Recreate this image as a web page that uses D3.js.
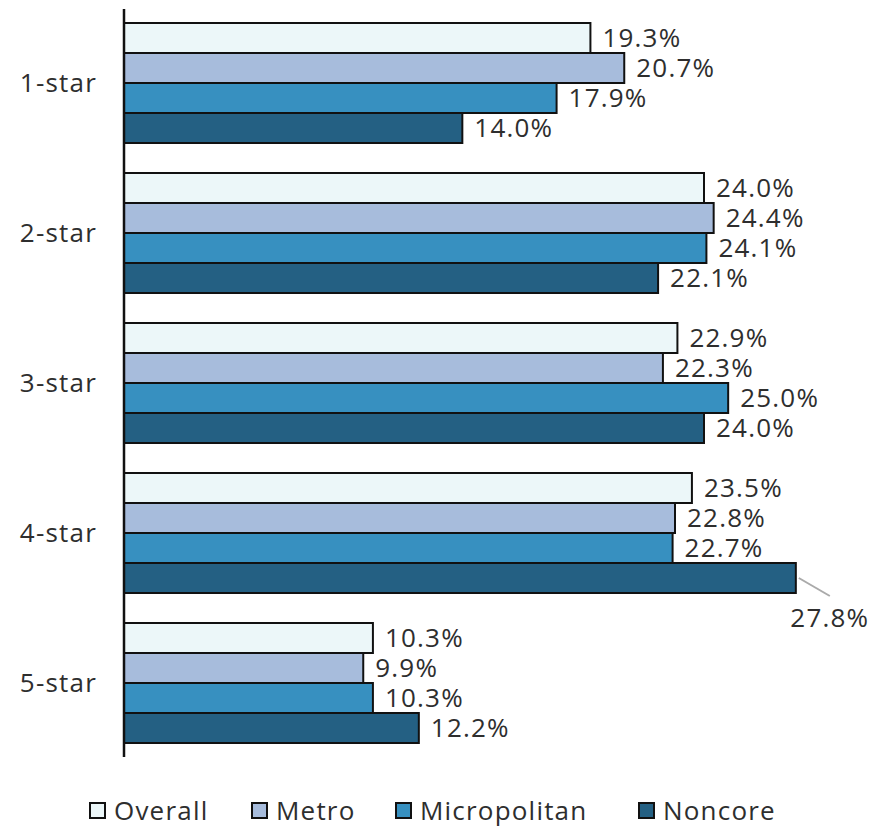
<!DOCTYPE html>
<html>
<head>
<meta charset="utf-8">
<script src="https://cdn.jsdelivr.net/npm/d3@7"></script>
<style>
  body { margin: 0; background: #fff; }
  text { font-family: "Open Sans", sans-serif; fill: #2e2e2e; letter-spacing: 1.2px; }
</style>
</head>
<body>
<div id="chart"></div>
<script>
// Data
const categories = ["1-star", "2-star", "3-star", "4-star", "5-star"];
const seriesNames = ["Overall", "Metro", "Micropolitan", "Noncore"];
const overall = [19.3, 24.0, 22.9, 23.5, 10.3];
const metro = [20.7, 24.4, 22.3, 22.8, 9.9];
const micropolitan = [17.9, 24.1, 25.0, 22.7, 10.3];
const noncore = [14.0, 22.1, 24.0, 27.8, 12.2];
const colors = ["#ecf7f9", "#a7bcdc", "#3790c0", "#246083"];

const seriesValues = [overall, metro, micropolitan, noncore];

const width = 885, height = 829;
const margin = {top: 8, right: 10, bottom: 72, left: 124};

const svg = d3.select("#chart")
    .append("svg")
    .attr("width", width)
    .attr("height", height);

// x: 0% sits on the axis line, 24% ends near x=704
const x = d3.scaleLinear()
    .domain([0, 24])
    .range([margin.left, 704]);

const y0 = d3.scaleBand()
    .domain(categories)
    .range([margin.top, 758])
    .paddingInner(0.2)
    .paddingOuter(0.1);

const y1 = d3.scaleBand()
    .domain(seriesNames)
    .range([0, y0.bandwidth()]);

// rows: one per bar
const rows = [];
categories.forEach((c, i) => {
  seriesNames.forEach((s, j) => {
    rows.push({cat: c, series: s, value: seriesValues[j][i], color: colors[j]});
  });
});

const bars = svg.append("g");
bars.selectAll("rect")
    .data(rows)
    .enter()
    .append("rect")
    .attr("x", x(0))
    .attr("y", d => y0(d.cat) + y1(d.series))
    .attr("width", d => x(d.value) - x(0))
    .attr("height", y1.bandwidth())
    .attr("fill", d => d.color)
    .attr("stroke", "#111")
    .attr("stroke-width", 2);

// value labels
const labels = svg.append("g").style("font-size", "26px");
labels.selectAll("text")
    .data(rows)
    .enter()
    .append("text")
    .attr("x", d => d.value > 27 ? x(d.value) + 34 : x(d.value) + 12)
    .attr("y", d => d.value > 27 ? y0(d.cat) + y1(d.series) + y1.bandwidth() / 2 + 40
                                 : y0(d.cat) + y1(d.series) + y1.bandwidth() / 2)
    .attr("dy", "0.35em")
    .attr("text-anchor", d => d.value > 27 ? "middle" : "start")
    .text(d => d.value.toFixed(1) + "%");

// leader line for the one label that falls outside
rows.filter(d => d.value > 27).forEach(d => {
  const cy = y0(d.cat) + y1(d.series) + y1.bandwidth() / 2;
  svg.append("line")
      .attr("x1", x(d.value) + 3).attr("y1", cy)
      .attr("x2", x(d.value) + 34).attr("y2", cy + 18)
      .attr("stroke", "#aaa")
      .attr("stroke-width", 2);
});

// y axis line + category labels
svg.append("line")
    .attr("x1", x(0)).attr("x2", x(0))
    .attr("y1", 9).attr("y2", 757)
    .attr("stroke", "#111")
    .attr("stroke-width", 2.5);

svg.append("g")
    .style("font-size", "26px")
    .selectAll("text")
    .data(categories)
    .enter()
    .append("text")
    .attr("x", 97)
    .attr("y", d => y0(d) + y0.bandwidth() / 2)
    .attr("dy", "0.35em")
    .attr("text-anchor", "end")
    .text(d => d);

// legend
const legendX = [90, 252, 396, 639];
const legend = svg.append("g").style("font-size", "26px");
seriesNames.forEach((s, i) => {
  const g = legend.append("g").attr("transform", `translate(${legendX[i]},803)`);
  g.append("rect")
      .attr("width", 15).attr("height", 15)
      .attr("fill", colors[i])
      .attr("stroke", "#111")
      .attr("stroke-width", 2);
  g.append("text")
      .attr("x", 24)
      .attr("y", 8)
      .attr("dy", "0.35em")
      .text(s);
});
</script>
</body>
</html>
